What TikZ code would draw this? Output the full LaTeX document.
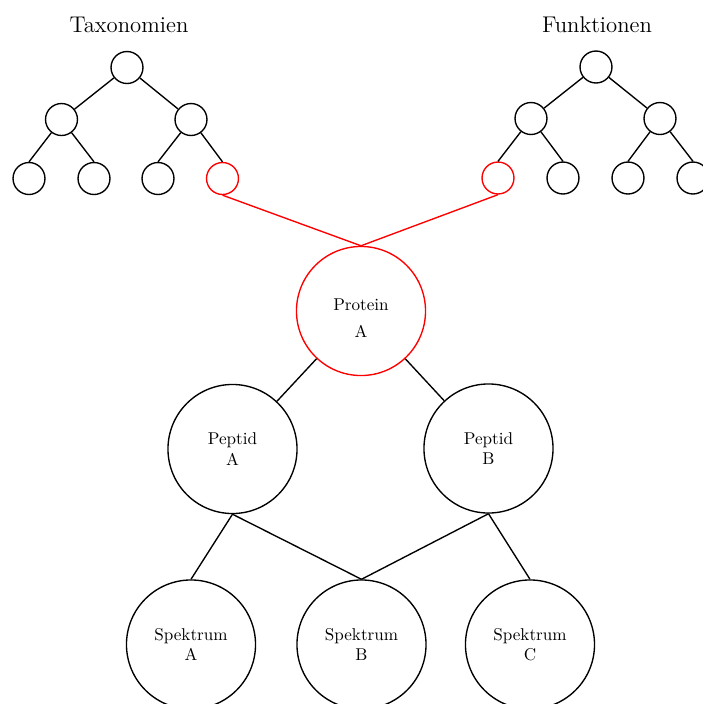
\documentclass[tikz,border=0pt]{standalone}
\begin{document}
\begin{tikzpicture}[x=0.585pt,y=-0.585pt,line width=0.8pt,
  small/.style={circle,draw,line width=0.8pt,inner sep=0pt,minimum size=18.7pt},
  big/.style={circle,draw,line width=0.8pt,inner sep=0pt,minimum size=75.5pt,align=center},
  hl/.style={red},
  title/.style={anchor=base,font=\fontsize{13.3}{16}\selectfont}]
\useasboundingbox (0,0) rectangle (703,704);
\clip (0,0) rectangle (703,704);

% taxonomy tree
\node[title] (tax) at (129,32) {Taxonomien};
\node[small] (t0) at (127,67.5) {};
\node[small] (t1) at (61.5,119.5) {};
\node[small] (t2) at (191,119.5) {};
\node[small] (t11) at (29,178.5) {};
\node[small] (t12) at (94,178.5) {};
\node[small] (t21) at (158,178.5) {};
\node[small,hl] (t22) at (222.5,178.5) {};
\draw (t0) -- (t1);
\draw (t0) -- (t2);
\draw (t1) -- (t11.north);
\draw (t1) -- (t12.north);
\draw (t2) -- (t21.north);
\draw (t2) -- (t22.north);

% function tree
\node[title] (fun) at (597,32) {Funktionen};
\node[small] (f0) at (596,67) {};
\node[small] (f1) at (531,118.5) {};
\node[small] (f2) at (660,118.5) {};
\node[small,hl] (f11) at (498,178) {};
\node[small] (f12) at (563,178) {};
\node[small] (f21) at (628,178) {};
\node[small] (f22) at (693,178) {};
\draw (f0) -- (f1);
\draw (f0) -- (f2);
\draw (f1) -- (f11.north);
\draw (f1) -- (f12.north);
\draw (f2) -- (f21.north);
\draw (f2) -- (f22.north);

% protein, peptides, spectra
\node[big,hl] (prot) at (361,311) {};
\node (protlbl) at (361,318) [align=center] {Protein\\[3.5pt]A};
\node[big] (pepA) at (232.5,449) {Peptid\\A};
\node[big] (pepB) at (488.5,448.5) {Peptid\\B};
\node[big] (specA) at (191,644.5) {Spektrum\\A};
\node[big] (specB) at (361.5,644.5) {Spektrum\\B};
\node[big] (specC) at (530,644.5) {Spektrum\\C};

\draw[hl] (t22.south) -- (prot.north);
\draw[hl] (f11.south) -- (prot.north);
\draw (prot) -- (pepA);
\draw (prot) -- (pepB);
\draw (pepA.south) -- (specA.north);
\draw (pepA.south) -- (specB.north);
\draw (pepB.south) -- (specB.north);
\draw (pepB.south) -- (specC.north);
\end{tikzpicture}
\end{document}
